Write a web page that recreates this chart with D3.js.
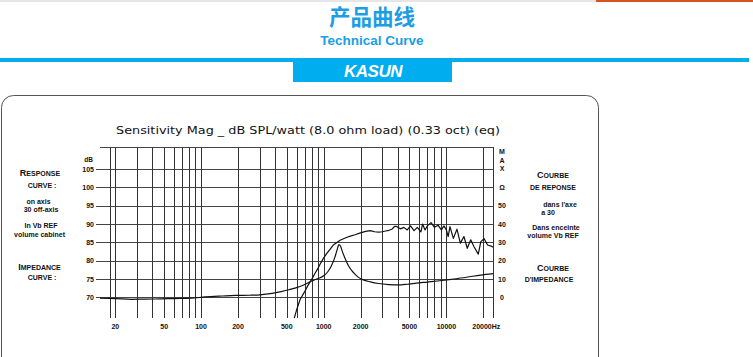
<!DOCTYPE html>
<html><head><meta charset="utf-8">
<script src="https://cdn.jsdelivr.net/npm/d3@7"></script>
<style>
html,body{margin:0;padding:0;background:#fff;}
svg{display:block;}
</style></head>
<body>
<svg id="c" width="753" height="357"></svg>
<script>
// ---------- data ----------
const gridFreqs = [18,20,30,40,50,60,70,80,90,100,200,300,400,500,600,700,800,900,1000,2000,3000,4000,5000,6000,7000,8000,9000,10000,20000];
const freqTickValues = [20,50,100,200,500,1000,2000,5000,10000,20000];
const freqTickLabels = ["20","50","100","200","500","1000","2000","5000","10000","20000Hz"];
const dbTicks = [70,75,80,85,90,95,100,105];
const ohmTicks = [0,10,20,30,40,50];

const responseFreq = [560,600,643,700,750,800,850,900,950,1000,1060,1130,1200,1280,1360,1450,1550,1650,1800,1990,2200,2400,2600,2800,3000,3200,3400,3600,3800,3960,4220,4500,4800,5100,5450,5800,6200,6400,6700,7000,7500,8000,8550,9100,9560,10000,10340,10700,11400,12200,13000,13900,14800,15800,16800,18200,19100,20300,21700,23200,24000];
const responseDb   = [63.0,66.5,69.5,71.6,73.5,75.0,76.6,78.0,79.5,80.8,82.0,83.2,84.3,85.0,85.6,86.0,86.4,86.7,87.1,87.6,88.0,88.2,87.9,87.8,87.9,88.1,88.3,88.6,89.4,89.3,88.7,89.1,88.4,89.5,88.2,89.1,87.9,90.0,88.4,89.5,90.4,89.1,89.7,88.4,89.5,88.4,86.6,89.3,86.1,88.6,84.8,86.6,83.4,85.7,83.8,81.8,85.2,86.0,84.3,84.0,83.7];

const impedanceFreq = [15,20,27,35,47,60,83,108,150,190,250,300,380,450,520,640,720,800,900,1000,1080,1150,1220,1280,1330,1370,1420,1500,1600,1750,1900,2100,2400,2800,3400,4000,4800,5700,7000,8800,11000,14600,19000,24000];
const impedanceOhm  = [-0.4,-0.6,-1.0,-0.9,-0.8,-0.6,-0.4,0.3,0.8,1.1,1.2,1.4,2.2,3.2,4.2,6.0,7.5,9.0,10.3,11.8,14.0,17.0,21.0,25.5,28.8,28.0,25.0,21.0,17.0,13.5,11.2,9.6,8.5,7.6,7.0,6.8,7.2,7.8,8.4,9.1,9.9,11.0,12.2,13.0];

// ---------- layout ----------
const svg = d3.select("#c");
const plotL = 100, plotR = 493, plotT = 147, plotB = 318;
const x = d3.scaleLog().domain([15, 24000]).range([plotL, plotR]);
const y = d3.scaleLinear().domain([64.4, 111]).range([plotB, plotT]);
const yZ = d3.scaleLinear().domain([0, 50]).range([y(70), y(95)]);
const blue = "#1b9ee4";
const band = "#00adef";

// header
svg.append("rect").attr("x",0).attr("y",0).attr("width",753).attr("height",2).attr("fill","#e6e6e6");
svg.append("rect").attr("x",596).attr("y",0).attr("width",157).attr("height",2).attr("fill","#d4531f");
svg.append("text").attr("x",372).attr("y",25).attr("text-anchor","middle")
  .attr("font-family","'Noto Sans CJK SC'").attr("font-weight","bold").attr("font-size",21.5)
  .attr("fill",blue).text("产品曲线");
svg.append("text").attr("x",372).attr("y",44.5).attr("text-anchor","middle")
  .attr("font-family","'Liberation Sans',Arial").attr("font-weight","bold").attr("font-size",13.5)
  .attr("fill",blue).text("Technical Curve");
svg.append("rect").attr("x",0).attr("y",58).attr("width",749).attr("height",4).attr("fill",band);
svg.append("rect").attr("x",293).attr("y",58).attr("width",159).attr("height",24).attr("fill",band);
svg.append("text").attr("x",373).attr("y",76.5).attr("text-anchor","middle")
  .attr("font-family","'Liberation Sans',Arial").attr("font-weight","bold").attr("font-style","italic")
  .attr("font-size",17).attr("letter-spacing",-0.5).attr("fill","#fff").text("KASUN");

// frame
svg.append("rect").attr("x",1.5).attr("y",95.5).attr("width",597).attr("height",290).attr("rx",12)
  .attr("fill","none").attr("stroke","#555").attr("stroke-width",1);

// chart title
svg.append("text").attr("x",116).attr("y",133.5)
  .attr("font-family","'DejaVu Sans'").attr("font-size",11).attr("fill","#111")
  .attr("textLength",384).attr("lengthAdjust","spacingAndGlyphs")
  .text("Sensitivity Mag _ dB SPL/watt (8.0 ohm load) (0.33 oct) (eq)");

// grid
const g = svg.append("g").attr("shape-rendering","crispEdges");
g.selectAll("line.h").data(dbTicks).join("line")
  .attr("x1",96).attr("x2",plotR).attr("y1",d=>Math.round(y(d))+0.5).attr("y2",d=>Math.round(y(d))+0.5)
  .attr("stroke","#444").attr("stroke-width",1);
g.append("line").attr("x1",plotL).attr("x2",plotR).attr("y1",plotT+0.5).attr("y2",plotT+0.5).attr("stroke","#444");
g.selectAll("line.v").data(gridFreqs).join("line")
  .attr("x1",d=>Math.round(x(d))+0.5).attr("x2",d=>Math.round(x(d))+0.5)
  .attr("y1",plotT).attr("y2",plotB).attr("stroke","#333").attr("stroke-width",1);
g.append("line").attr("x1",plotR+0.5).attr("x2",plotR+0.5).attr("y1",plotT).attr("y2",plotB).attr("stroke","#333");

const tickFont = "'Liberation Sans',Arial";
// left axis labels
svg.selectAll("text.ly").data(dbTicks).join("text")
  .attr("x",94).attr("y",d=>y(d)+2.5).attr("text-anchor","end")
  .attr("font-family",tickFont).attr("font-weight","bold").attr("font-size",7).attr("fill","#111")
  .text(d=>d);
svg.append("text").attr("x",93).attr("y",161.5).attr("text-anchor","end")
  .attr("font-family",tickFont).attr("font-weight","bold").attr("font-size",6.5).attr("fill","#111").text("dB");
// right axis labels
svg.selectAll("text.ry").data(ohmTicks).join("text")
  .attr("x",502).attr("y",d=>yZ(d)+2.5).attr("text-anchor","middle")
  .attr("font-family",tickFont).attr("font-weight","bold").attr("font-size",7).attr("fill","#111")
  .text(d=>d);
svg.append("text").attr("x",502).attr("y",y(100)+2.5).attr("text-anchor","middle")
  .attr("font-family",tickFont).attr("font-weight","bold").attr("font-size",7).attr("fill","#111").text("Ω");
["M","A","X"].forEach((c,i)=>{
  svg.append("text").attr("x",502).attr("y",154+i*8.5).attr("text-anchor","middle")
    .attr("font-family",tickFont).attr("font-weight","bold").attr("font-size",7).attr("fill","#111").text(c);
});
// bottom axis labels
svg.selectAll("text.bx").data(freqTickValues).join("text")
  .attr("x",(d,i)=>x(d)+(i===freqTickValues.length-1?3:0)).attr("y",328.5).attr("text-anchor","middle")
  .attr("font-family",tickFont).attr("font-weight","bold").attr("font-size",7).attr("fill","#111")
  .text((d,i)=>freqTickLabels[i]);

// side notes
function note(xp, yp, big, rest, size){
  const t = svg.append("text").attr("x",xp).attr("y",yp).attr("text-anchor","middle")
    .attr("font-family",tickFont).attr("font-weight","bold").attr("fill","#111");
  if (big){ t.append("tspan").attr("font-size",size+2).text(big); }
  t.append("tspan").attr("font-size",size).text(rest);
}
note(40,175.5,"R","ESPONSE",7);
note(42,187.5,null,"CURVE :",7);
note(38.5,203.5,null,"on axis",7);
note(41,212,null,"30  off-axis",7);
note(41,228,null,"In Vb REF",7);
note(39.5,236.5,null,"volume cabinet",7);
note(39.5,269.5,"I","MPEDANCE",7);
note(42,280,null,"CURVE :",7);

note(553,178,"C","OURBE",7);
note(553,189.5,null,"DE REPONSE",7);
note(560,206.5,null,"dans l'axe",7);
note(548,215,null,"a 30",7);
note(556,229.5,null,"Dans enceinte",7);
note(553,238,null,"volume  Vb REF",7);
note(553,270.5,"C","OURBE",7);
note(549,281.5,null,"D'IMPEDANCE",7);

// curves
svg.append("clipPath").attr("id","clip").append("rect")
  .attr("x",plotL).attr("y",plotT).attr("width",plotR-plotL).attr("height",plotB-plotT);
const resp = responseFreq.map((f,i)=>({f, v: responseDb[i]}));
const imp = impedanceFreq.map((f,i)=>({f, v: impedanceOhm[i]}));
svg.append("path").datum(resp).attr("clip-path","url(#clip)")
  .attr("d", d3.line().x(d=>x(d.f)).y(d=>y(d.v)))
  .attr("fill","none").attr("stroke","#111").attr("stroke-width",1.2).attr("stroke-linejoin","round");
svg.append("path").datum(imp).attr("clip-path","url(#clip)")
  .attr("d", d3.line().x(d=>x(d.f)).y(d=>yZ(d.v)).curve(d3.curveMonotoneX))
  .attr("fill","none").attr("stroke","#111").attr("stroke-width",1.2);
</script>
</body></html>
